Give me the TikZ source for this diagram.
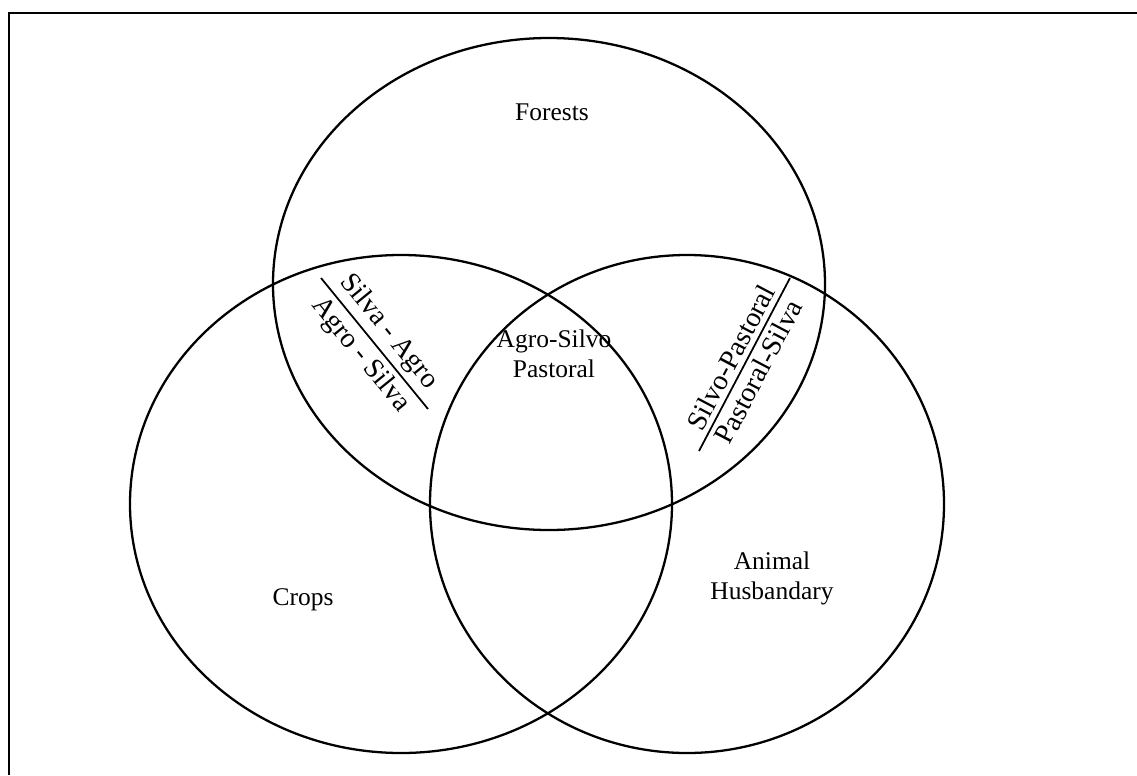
\documentclass[tikz,border=0pt]{standalone}
\usepackage{fontspec}
\setmainfont{Liberation Serif}
\usepackage{tikz}
\usetikzlibrary{positioning,calc}
\tikzset{
  ring/.style={draw=black, line width=1.3pt},
  frameline/.style={draw=black, line width=1.4pt},
  lbl/.style={align=center, font=\fontsize{14.5}{17}\selectfont, inner sep=1pt},
  tilt/.style={lbl, font=\fontsize{16}{18}\selectfont, inner sep=3pt},
  divider/.style={draw=black, line width=1pt}
}
\begin{document}
\begin{tikzpicture}[x=0.02cm,y=-0.02cm]
  \useasboundingbox (0,0) rectangle (1137,775);
  % frame
  \draw[frameline] (9,775) -- (9,13) -- (1137,13);
  % the three sets
  \draw[ring] (549,284) ellipse [x radius=276, y radius=246];
  \draw[ring] (401,504) ellipse [x radius=271, y radius=249];
  \draw[ring] (687,504) ellipse [x radius=257, y radius=249];
  % set names
  \node[lbl] (forests) at (552,112) {Forests};
  \node[lbl] (crops) at (303,600) {Crops};
  \node[lbl] (animal) at (772,578) {Animal\\Husbandary};
  \node[lbl] (core) at (554,354) {Agro-Silvo\\Pastoral};
  % overlaps
  \coordinate (sa1) at (321,278);
  \coordinate (sa2) at (428,409);
  \draw[divider] (sa1) -- (sa2);
  \node[tilt, rotate=-50.8, anchor=south] (silvaagro) at ($(sa1)!0.5!(sa2)$) {Silva - Agro};
  \node[tilt, rotate=-50.8, anchor=north] (agrosilva) at ($(sa1)!0.5!(sa2)$) {Agro - Silva};
  \coordinate (sp1) at (699,451);
  \coordinate (sp2) at (790,278);
  \draw[divider] (sp1) -- (sp2);
  \node[tilt, rotate=62.2, anchor=south] (silvopast) at ($(sp1)!0.5!(sp2)$) {Silvo-Pastoral};
  \node[tilt, rotate=62.2, anchor=north] (pastsilva) at ($(sp1)!0.5!(sp2)$) {Pastoral-Silva};
\end{tikzpicture}
\end{document}
